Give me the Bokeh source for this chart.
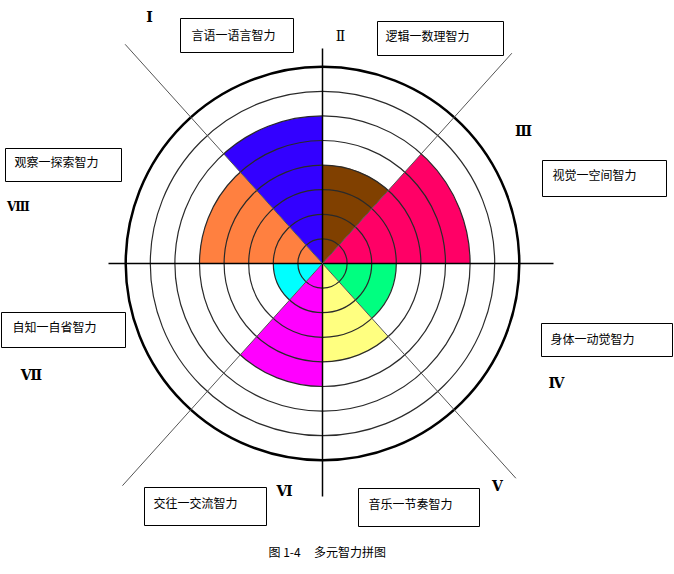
from bokeh.plotting import figure
from bokeh.models import Range1d
from bokeh.core.properties import value
from bokeh.embed import file_html
from bokeh.resources import INLINE
import math

# ---- data ----
labels = ["言语一语言智力", "逻辑一数理智力", "视觉一空间智力", "身体一动觉智力",
          "音乐一节奏智力", "交往一交流智力", "自知一自省智力", "观察一探索智力"]
numerals = ["Ⅰ", "Ⅱ", "Ⅲ", "Ⅳ", "Ⅴ", "Ⅵ", "Ⅶ", "Ⅷ"]
levels = [6, 4, 6, 3, 4, 5, 2, 5]
start_deg = [90, 48, 0, 312, 270, 228, 180, 132]
end_deg = [132, 90, 48, 360, 312, 270, 228, 180]
colors = ["#3300ff", "#804000", "#ff0066", "#00ff80",
          "#ffff80", "#ff00ff", "#00ffff", "#ff8040"]
ring_levels = [1, 2, 3, 4, 5, 6, 7, 8]
caption = "图 1-4\u00a0\u00a0\u00a0\u00a0\u00a0多元智力拼图"

# ---- layout (page pixel positions of the reference) ----
W, H = 674, 574
CX, CY = 322, 263
UNIT = 24.6


def px(X):
    return X - CX


def py(Y):
    return CY - Y


boxes = [(180, 18, 293, 52), (377, 21, 503, 55), (542, 160, 666, 196), (541, 323, 672, 356),
         (358, 488, 479, 526), (144, 487, 266, 525), (1, 312, 125, 347), (5, 148, 121, 181)]
text_pos = [(191, 34), (385, 35), (552, 174), (550, 338), (368, 503), (153, 502), (12, 326), (14, 161)]
num_pos = [(149, 16), (340, 35), (523, 130), (556, 382), (497, 485), (284, 490), (31, 374), (18, 206)]
num_bold = [True, False, True, True, True, True, True, True]
num_size = ["14px", "14px", "14px", "14px", "14px", "14px", "14px", "12px"]

# axis arms: (angle deg, length)
arms_main = [(0, 231), (90, 215), (180, 214), (270, 233)]
arms_diag = [(48, 283), (132, 295), (228, 299), (312, 289)]

p = figure(width=W, height=H, output_backend="svg", toolbar_location=None,
           x_range=Range1d(-CX, W - CX), y_range=Range1d(CY - H, CY),
           x_axis_type=None, y_axis_type=None, min_border=0)
p.grid.visible = False
p.outline_line_color = None
p.background_fill_color = "white"
p.border_fill_color = "white"

# sectors
p.wedge(x=[0] * 8, y=[0] * 8, radius=[l * UNIT for l in levels],
        start_angle=[math.radians(a) for a in start_deg],
        end_angle=[math.radians(a) for a in end_deg],
        fill_color=colors, line_color=None)

# rings
inner = ring_levels[:-1]
p.circle(x=[0] * len(inner), y=[0] * len(inner), radius=[r * UNIT for r in inner],
         fill_color=None, line_color="#2a2a2a", line_width=1.2)
p.circle(x=[0], y=[0], radius=[ring_levels[-1] * UNIT],
         fill_color=None, line_color="black", line_width=2.5)

# axis lines
p.segment(x0=[0] * 4, y0=[0] * 4,
          x1=[L * math.cos(math.radians(a)) for a, L in arms_main],
          y1=[L * math.sin(math.radians(a)) for a, L in arms_main],
          line_color="black", line_width=1.5)
p.segment(x0=[0] * 4, y0=[0] * 4,
          x1=[L * math.cos(math.radians(a)) for a, L in arms_diag],
          y1=[L * math.sin(math.radians(a)) for a, L in arms_diag],
          line_color="#555555", line_width=1)

# label boxes
p.quad(left=[px(b[0]) for b in boxes], right=[px(b[2]) for b in boxes],
       top=[py(b[1]) for b in boxes], bottom=[py(b[3]) for b in boxes],
       fill_color="white", line_color="black", line_width=1)
p.text(x=[px(t[0]) for t in text_pos], y=[py(t[1]) for t in text_pos], text=labels,
       text_font=value("Noto Sans CJK SC"), text_font_size="12px",
       text_align="left", text_baseline="middle", text_color="black")

# roman numerals
for i in range(8):
    p.text(x=[px(num_pos[i][0])], y=[py(num_pos[i][1])], text=[numerals[i]],
           text_font=value("DejaVu Serif"), text_font_size=num_size[i],
           text_font_style="bold" if num_bold[i] else "normal",
           text_align="center", text_baseline="middle", text_color="black")

# caption
p.text(x=[px(268)], y=[py(551)], text=[caption],
       text_font=value("Noto Sans CJK SC"), text_font_size="12px",
       text_align="left", text_baseline="middle", text_color="black")

open("out.html", "w").write(file_html(p, INLINE))
